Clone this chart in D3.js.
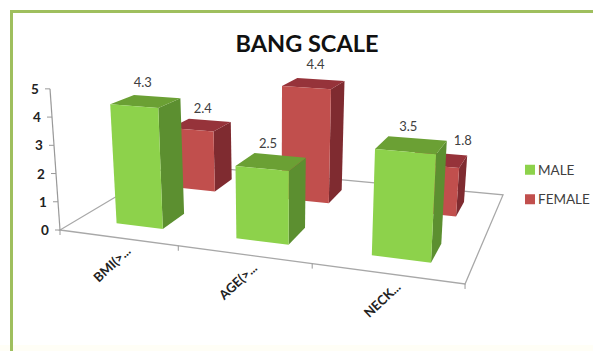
<!DOCTYPE html>
<html>
<head>
<meta charset="utf-8">
<script src="https://cdn.jsdelivr.net/npm/d3@7"></script>
<style>
  body { margin: 0; background: #fff; }
  svg { display: block; font-family: Lato, "Open Sans", sans-serif; }
</style>
</head>
<body>
<div id="chart"></div>
<script>
var categories = ["BMI(>...", "AGE(>...", "NECK..."];
var seriesNames = ["MALE", "FEMALE"];
var male = [4.3, 2.5, 3.5];
var female = [2.4, 4.4, 1.8];
var valueTicks = [0, 1, 2, 3, 4, 5];

var width = 593, height = 351;

var colors = {
  MALE: {front: "#8dd24b", top: "#6ba034", side: "#5c8f30"},
  FEMALE: {front: "#c14f4d", top: "#96333a", side: "#7f2b30"}
};

var svg = d3.select("#chart").append("svg")
    .attr("width", width)
    .attr("height", height);

// panel border, open on the right and bottom like the slide it sits on
svg.append("rect").attr("width", width).attr("height", height).attr("fill", "#fff");
svg.append("rect").attr("x", 0).attr("y", 345).attr("width", width).attr("height", 6).attr("fill", "#fffef6");
svg.append("path")
    .attr("d", "M11.5,351V11.5H593")
    .attr("fill", "none")
    .attr("stroke", "#9fbf5e")
    .attr("stroke-width", 3);

// floor coordinates: u runs along the categories, v runs back through the series
var u = d3.scaleBand().domain(categories).range([0.012, 1.012]).paddingInner(0.6).paddingOuter(0.3);
var v = d3.scaleBand().domain(seriesNames).range([0, 1]).paddingInner(0.62).paddingOuter(0.283);

// perspective of the floor plane, unit square to screen
function floor(a, b) {
  var w = 1 - 0.1749 * a + 0.2399 * b;
  return [(323.7 * a + 152 * b + 60) / w, (4.3 * a - 26.7 * b + 230) / w];
}

// verticals get longer toward the viewer and fan out from the middle
var unitHeight = d3.scaleLinear().domain([190, 260]).range([24.8, 30.8]);
var lean = d3.scaleLinear().domain([60, 428]).range([-2, 1.43]);

function project(a, b, value) {
  var p = floor(a, b);
  return [p[0] + lean(p[0]) * value, p[1] - unitHeight(p[1]) * value];
}

function poly(points) {
  return "M" + points.map(function(p) { return p[0].toFixed(1) + "," + p[1].toFixed(1); }).join("L") + "Z";
}

// floor edges
var floorPath = [[0, 1], [0, 0], [1, 0], [1, 1], [0, 1]];
svg.append("path")
    .attr("d", d3.line()(floorPath.map(function(c) { return floor(c[0], c[1]); })))
    .attr("fill", "#fff")
    .attr("stroke", "#a8a8a8")
    .attr("stroke-width", 1.3);

// value axis
var axis = svg.append("g");
axis.append("path")
    .attr("d", d3.line()([project(0, 0, 0), project(0, 0, 5)]))
    .attr("stroke", "#999")
    .attr("stroke-width", 1.2);
valueTicks.forEach(function(t) {
  var p = project(0, 0, t);
  axis.append("line")
      .attr("x1", p[0] - 5).attr("y1", p[1])
      .attr("x2", p[0]).attr("y2", p[1])
      .attr("stroke", "#999");
  axis.append("text")
      .attr("x", p[0] - 15)
      .attr("y", p[1] + 5)
      .attr("text-anchor", "middle")
      .attr("font-size", 13.5)
      .attr("font-weight", 700)
      .attr("fill", "#222")
      .text(t);
});

// category separators and labels
d3.range(4).forEach(function(i) {
  var p = floor(i / 3, 0);
  svg.append("line")
      .attr("x1", p[0]).attr("y1", p[1])
      .attr("x2", p[0]).attr("y2", p[1] + 5)
      .attr("stroke", "#999");
});
categories.forEach(function(c) {
  var p = floor(u(c) + u.bandwidth() / 2, 0);
  svg.append("text")
      .attr("transform", "translate(" + (p[0] + 10) + "," + (p[1] + 14) + ") rotate(-43)")
      .attr("text-anchor", "end")
      .attr("font-size", 13)
      .attr("font-weight", 700)
      .attr("fill", "#222")
      .text(c);
});

// back row first so the front row paints over it
var rows = [{name: "FEMALE", values: female}, {name: "MALE", values: male}];
var labels = [];

rows.forEach(function(row) {
  row.values.forEach(function(value, i) {
    var c = categories[i];
    var u0 = u(c), u1 = u0 + u.bandwidth();
    var v0 = v(row.name), v1 = v0 + v.bandwidth();
    var col = colors[row.name];
    var g = svg.append("g");

    g.append("path")
        .attr("d", poly([project(u1, v0, 0), project(u1, v1, 0), project(u1, v1, value), project(u1, v0, value)]))
        .attr("fill", col.side);
    g.append("path")
        .attr("d", poly([project(u0, v0, value), project(u1, v0, value), project(u1, v1, value), project(u0, v1, value)]))
        .attr("fill", col.top);
    g.append("path")
        .attr("d", poly([project(u0, v0, 0), project(u1, v0, 0), project(u1, v0, value), project(u0, v0, value)]))
        .attr("fill", col.front);

    var mid = project((u0 + u1) / 2, (v0 + v1) / 2, value);
    labels.push({value: value, x: mid[0], y: mid[1], name: row.name, cat: i});
  });
});

// the short NECK bar sits mostly hidden, so its label moves out to the right
labels.forEach(function(d) {
  var dx = (d.name == "FEMALE" && d.cat == 2) ? 26 : (d.name == "MALE" ? -3 : 2);
  svg.append("text")
      .attr("x", d.x + dx)
      .attr("y", d.y - (d.name == "FEMALE" && d.cat == 0 ? 12 : 14))
      .attr("text-anchor", "middle")
      .attr("font-size", 13)
      .attr("fill", "#404040")
      .text(d.value.toFixed(1));
});

svg.append("text")
    .attr("x", 307)
    .attr("y", 52)
    .attr("text-anchor", "middle")
    .attr("font-size", 23.5)
    .attr("font-weight", 700)
    .attr("fill", "#111")
    .text("BANG SCALE");

// legend
var legendY = d3.scaleBand().domain(seriesNames).range([155, 214]);
seriesNames.forEach(function(name) {
  var y = legendY(name) + legendY.bandwidth() / 2;
  svg.append("rect")
      .attr("x", 525).attr("y", y - 5)
      .attr("width", 10).attr("height", 10)
      .attr("fill", colors[name].front);
  svg.append("text")
      .attr("x", 538).attr("y", y + 5)
      .attr("font-size", 13.5)
      .attr("fill", "#404040")
      .text(name);
});
</script>
</body>
</html>
